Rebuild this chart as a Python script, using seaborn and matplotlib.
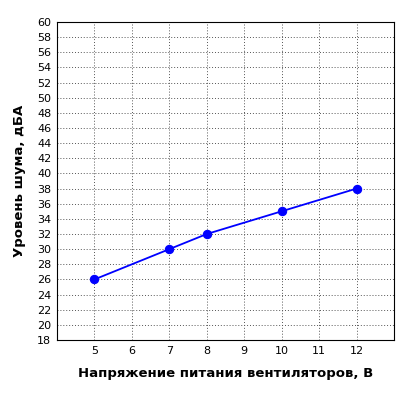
import matplotlib
matplotlib.use("Agg")
import matplotlib.pyplot as plt
import seaborn as sns
import pandas as pd

voltage = [5, 7, 8, 10, 12]
noise = [26, 30, 32, 35, 38]
xticks = [5, 6, 7, 8, 9, 10, 11, 12]
yticks = list(range(18, 61, 2))

sns.set_style("white")
plt.rcParams['font.family'] = ['DejaVu Sans']
plt.rcParams['text.color'] = 'black'
plt.rcParams['axes.labelcolor'] = 'black'
plt.rcParams['xtick.color'] = 'black'
plt.rcParams['ytick.color'] = 'black'
fig = plt.figure(figsize=(4, 4), dpi=100)
ax = fig.add_axes([0.1425, 0.15, 0.8425, 0.795])
df = pd.DataFrame({"v": voltage, "n": noise})
sns.lineplot(data=df, x="v", y="n", ax=ax, color="#0000ff", marker="o",
             markersize=6, markeredgecolor="#0000ff", linewidth=1.3)
ax.set_xlim(4, 13)
ax.set_ylim(18, 60)
ax.set_xticks(range(4, 14))
ax.set_xticklabels([""] + [str(t) for t in xticks] + [""], fontsize=8)
ax.set_yticks(yticks)
ax.set_yticklabels([str(t) for t in yticks], fontsize=8)
ax.grid(True, linestyle=(0, (1, 2)), color="#555555", linewidth=0.7)
for s in ax.spines.values():
    s.set_color("black"); s.set_linewidth(0.8)
ax.tick_params(length=0, pad=4)
ax.set_xlabel("Напряжение питания вентиляторов, В", fontsize=9.5, fontweight="bold", labelpad=8)
ax.set_ylabel("Уровень шума, дБА", fontsize=9.5, fontweight="bold", labelpad=8)
fig.savefig("out.png", dpi=100)
